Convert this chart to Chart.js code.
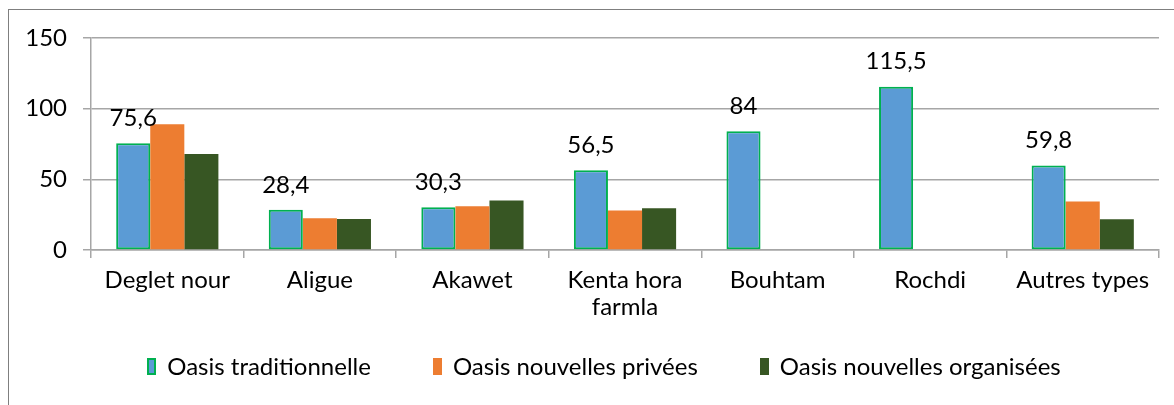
<!DOCTYPE html>
<html>
<head>
<meta charset="utf-8">
<script src="https://cdn.jsdelivr.net/npm/chart.js@4/dist/chart.umd.min.js"></script>
<style>
  html, body { margin: 0; padding: 0; background: #fff; overflow: hidden; }
  #wrap { position: relative; width: 1174px; height: 405px; font-family: Lato, 'Liberation Sans', sans-serif; }
  #frame { position: absolute; left: 8px; top: 9px; width: 1180px; height: 420px; border: 1px solid #7f7f7f; box-sizing: border-box; }
  canvas { position: absolute; left: 0; top: 0; }
  #legende { position: absolute; left: 0; width: 1208px; top: 351px; display: flex; justify-content: center; gap: 62px; font-size: 24px; color: #000; line-height: 30px; }
  #legende span.item { display: flex; align-items: center; }
  #legende i { display: inline-block; width: 9px; height: 17px; margin-right: 11px; box-sizing: border-box; }
</style>
</head>
<body>
<div id="wrap">
  <div id="frame"></div>
  <canvas id="dattes" width="1174" height="405"></canvas>
  <div id="legende"></div>
</div>
<script>
// variétés de dattes par type d'oasis
const categories = ['Deglet nour', 'Aligue', 'Akawet', ['Kenta hora', 'farmla'], 'Bouhtam', 'Rochdi', 'Autres types'];
const traditionnelle = [75.6, 28.4, 30.3, 56.5, 84, 115.5, 59.8];
const privees = [89, 22.4, 31, 28, null, null, 34.4];
const organisees = [68, 22, 35, 29.5, null, null, 21.7];
const yTicks = [0, 50, 100, 150];

const font = "Lato, 'Liberation Sans', sans-serif";
const gris = '#a6a6a6';

// étiquettes de valeur au-dessus des barres bleues
const valueLabels = {
  id: 'valueLabels',
  afterDatasetsDraw(chart) {
    const ctx = chart.ctx;
    const meta = chart.getDatasetMeta(0);
    ctx.save();
    ctx.font = '24px ' + font;
    ctx.fillStyle = '#000';
    ctx.textAlign = 'center';
    ctx.textBaseline = 'middle';
    meta.data.forEach((bar, i) => {
      const v = traditionnelle[i];
      ctx.fillText(String(v).replace('.', ','), bar.x, bar.y - 25);
    });
    ctx.restore();
  }
};

const chart = new Chart(document.getElementById('dattes'), {
  type: 'bar',
  data: {
    labels: categories,
    datasets: [
      {
        label: 'Oasis traditionnelle',
        data: traditionnelle,
        backgroundColor: '#5b9bd5',
        borderColor: '#00b050',
        borderWidth: 2,
        borderSkipped: false
      },
      {
        label: 'Oasis nouvelles privées',
        data: privees,
        backgroundColor: '#ed7d31',
        borderWidth: 0
      },
      {
        label: 'Oasis nouvelles organisées',
        data: organisees,
        backgroundColor: '#375623',
        borderWidth: 0
      }
    ]
  },
  options: {
    responsive: false,
    animation: false,
    layout: { padding: { left: 10, right: 15, top: 38, bottom: 75 } },
    datasets: { bar: { categoryPercentage: 0.67, barPercentage: 1 } },
    scales: {
      y: {
        min: 0,
        max: 150,
        afterBuildTicks: (s) => { s.ticks = yTicks.map(v => ({ value: v })); },
        afterFit: (s) => { s.width = 81; },
        ticks: { color: '#000', font: { family: font, size: 24 }, padding: 16 },
        grid: { color: gris, lineWidth: 1.5, tickLength: 8 },
        border: { color: gris, width: 1.5 }
      },
      x: {
        afterFit: (s) => { s.height = 80; },
        ticks: { color: '#000', font: { family: font, size: 24, lineHeight: 1.15 }, padding: 8, maxRotation: 0 },
        grid: { color: gris, lineWidth: 1.5, drawOnChartArea: false, tickLength: 8, offset: true },
        border: { color: gris, width: 1.5 }
      }
    },
    plugins: {
      legend: { display: false },
      tooltip: { enabled: false }
    }
  },
  plugins: [valueLabels]
});

// légende en bas
const legende = document.getElementById('legende');
chart.data.datasets.forEach((d, i) => {
  const item = document.createElement('span');
  item.className = 'item';
  const box = document.createElement('i');
  box.style.background = d.backgroundColor;
  if (i === 0) box.style.border = '2px solid #00b050';
  item.appendChild(box);
  item.appendChild(document.createTextNode(d.label));
  legende.appendChild(item);
});
</script>
</body>
</html>
